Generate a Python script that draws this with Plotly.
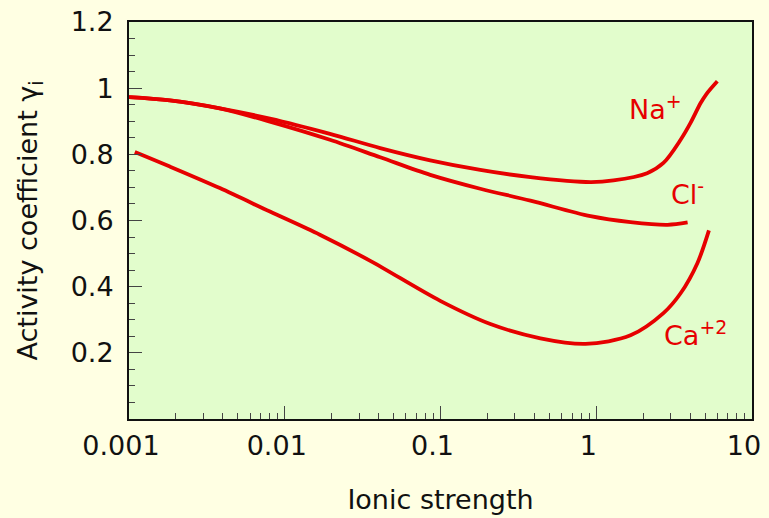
import math
import plotly.graph_objects as go

# Ionic strength (x) and activity coefficients (y)
na_I = [0.001, 0.00183, 0.00383, 0.00803, 0.0195, 0.041, 0.0859, 0.18, 0.378, 0.918, 1.29, 2.12, 2.70, 3.48, 4.03, 4.68, 5.11, 5.99]
na_g = [0.973, 0.963, 0.939, 0.908, 0.862, 0.819, 0.782, 0.753, 0.731, 0.716, 0.721, 0.743, 0.774, 0.844, 0.895, 0.955, 0.983, 1.021]

cl_I = [0.001, 0.00183, 0.00383, 0.00803, 0.0195, 0.041, 0.0859, 0.18, 0.378, 0.918, 1.66, 2.87, 3.86]
cl_g = [0.973, 0.963, 0.939, 0.899, 0.844, 0.791, 0.738, 0.696, 0.660, 0.613, 0.595, 0.587, 0.594]

ca_I = [0.00109, 0.00183, 0.00383, 0.00803, 0.0168, 0.0354, 0.0996, 0.209, 0.438, 0.853, 1.66, 2.70, 3.48, 4.46, 5.29]
ca_g = [0.807, 0.763, 0.698, 0.627, 0.557, 0.478, 0.357, 0.287, 0.244, 0.227, 0.253, 0.320, 0.380, 0.471, 0.570]

x_ticks = [0.001, 0.01, 0.1, 1, 10]
x_labels = ["0.001", "0.01", "0.1", "1", "10"]
y_ticks = [0.2, 0.4, 0.6, 0.8, 1.0, 1.2]
y_labels = ["0.2", "0.4", "0.6", "0.8", "1", "1.2"]

labels = ["Na<sup>+</sup>", "Cl<sup>-</sup>", "Ca<sup>+2</sup>"]
label_x = [1.60, 2.96, 2.70]
label_y = [0.943, 0.684, 0.257]

RED = "#e60000"
FONT = "DejaVu Sans"
FS = 27

fig = go.Figure()
for xs, ys in [(na_I, na_g), (cl_I, cl_g), (ca_I, ca_g)]:
    fig.add_trace(go.Scatter(x=xs, y=ys, mode="lines",
                             line=dict(color=RED, width=3.8, shape="spline", smoothing=0.9),
                             hoverinfo="skip", showlegend=False))

for t, lx, ly in zip(labels, label_x, label_y):
    fig.add_annotation(x=math.log10(lx), y=ly, xref="x", yref="y", text=t, showarrow=False,
                       xanchor="left", yanchor="middle", borderpad=0,
                       font=dict(family=FONT, size=27, color=RED))

minor_x = [m * 10 ** e for e in range(-3, 1) for m in range(2, 10)]
fig.update_xaxes(type="log", range=[-3, 1], automargin=False,
                 tickvals=x_ticks, ticktext=x_labels,
                 ticks="inside", ticklen=13, tickwidth=1, tickcolor="#444",
                 showline=True, linecolor="#111", linewidth=2, mirror=True,
                 showgrid=False, zeroline=False,
                 tickfont=dict(family=FONT, size=FS, color="#111"),
                 ticklabelshift=-8, ticklabelstandoff=2,
                 minor=dict(tickvals=minor_x, ticks="inside", ticklen=6, tickwidth=1, tickcolor="#444", showgrid=False),
                 title=dict(text="Ionic strength", font=dict(family=FONT, size=FS, color="#111"), standoff=30))
fig.update_yaxes(range=[0, 1.2], automargin=False,
                 tickvals=y_ticks, ticktext=y_labels,
                 ticks="inside", ticklen=13, tickwidth=1, tickcolor="#444",
                 showline=True, linecolor="#111", linewidth=2, mirror=True,
                 showgrid=False, zeroline=False,
                 tickfont=dict(family=FONT, size=FS, color="#111"),
                 ticklabelstandoff=8,
                 minor=dict(dtick=0.05, ticks="inside", ticklen=6, tickwidth=1, tickcolor="#444", showgrid=False),
                 title=dict(text="Activity coefficient γ<sub>i</sub>", font=dict(family=FONT, size=FS, color="#111"), standoff=25))

fig.update_layout(width=769, height=518,
                  margin=dict(l=129, r=17, t=22, b=99),
                  paper_bgcolor="#ffffe3", plot_bgcolor="#e2fdcc",
                  font=dict(family=FONT, size=FS, color="#111"))

fig.write_html("out.html", config={"displayModeBar": False},
               post_script="document.body.style.margin='0';")
